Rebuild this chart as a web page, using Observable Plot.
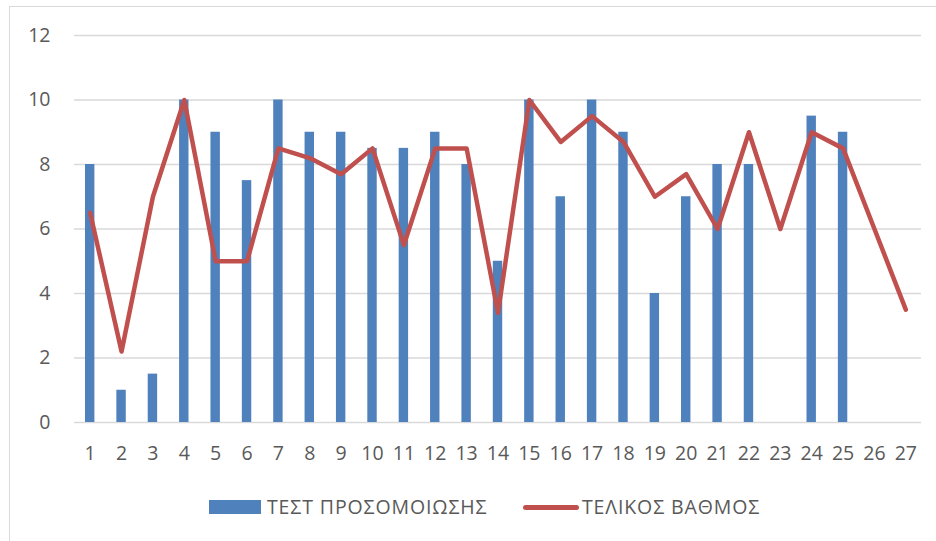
<!DOCTYPE html>
<html><head><meta charset="utf-8">
<script src="https://cdn.jsdelivr.net/npm/d3@7"></script>
<script src="https://cdn.jsdelivr.net/npm/@observablehq/plot@0.6"></script>
<style>
body{margin:0;background:#fff;}
#wrap{position:relative;width:936px;height:541px;overflow:hidden;font-family:"Open Sans",sans-serif;color:#595959;}
#frame{position:absolute;left:9px;top:6px;width:1000px;height:1000px;border:1px solid #d9d9d9;box-sizing:border-box;}
#chart{position:absolute;left:0;top:0;}
.sw{position:absolute;}
.lt{position:absolute;font-size:19.5px;line-height:20px;white-space:nowrap;letter-spacing:0.88px;}
</style>
</head><body>
<div id="wrap"><div id="frame"></div><div id="chart"></div>
<div class="sw" style="left:209px;top:500px;width:52px;height:14px;background:#4F81BD"></div>
<div class="lt" id="l1" style="left:267px;top:497px">ΤΕΣΤ ΠΡΟΣΟΜΟΙΩΣΗΣ</div>
<div class="sw" style="left:523px;top:505px;width:56px;height:5px;border-radius:3px;background:#C0504D"></div>
<div class="lt" id="l2" style="left:582px;top:497px">ΤΕΛΙΚΟΣ ΒΑΘΜΟΣ</div>
</div>
<script>
const categories = [1,2,3,4,5,6,7,8,9,10,11,12,13,14,15,16,17,18,19,20,21,22,23,24,25,26,27];
const testScores = [8,1,1.5,10,9,7.5,10,9,9,8.5,8.5,9,8,5,10,7,10,9,4,7,8,8,null,9.5,9,null,null];
const finalScores = [6.5,2.2,7,10,5,5,8.5,8.2,7.7,8.5,5.5,8.5,8.5,3.4,10,8.7,9.5,8.7,7,7.7,6,9,6,9,8.5,6,3.5];
const yTicks = [0,2,4,6,8,10,12];
const seriesNames = ["ΤΕΣΤ ΠΡΟΣΟΜΟΙΩΣΗΣ","ΤΕΛΙΚΟΣ ΒΑΘΜΟΣ"];

const rows = categories.map((c,i)=>({c, test: testScores[i], fin: finalScores[i]}));
const plot = Plot.plot({
  width: 936, height: 480,
  marginTop: 35, marginBottom: 58, marginLeft: 74, marginRight: 15,
  style: {fontFamily: "Open Sans, sans-serif", fontSize: "19.5px", color: "#595959", background: "transparent"},
  x: {type: "band", domain: categories, paddingInner: 0.7, paddingOuter: 0.35, round: false, label: null},
  y: {domain: [0, 12], label: null},
  marks: [
    Plot.ruleY(yTicks, {stroke: "#d9d9d9", strokeWidth: 1.3}),
    Plot.barY(rows.filter(d => d.test != null), {x: "c", y: "test", fill: "#4F81BD"}),
    Plot.lineY(rows, {x: "c", y: "fin", stroke: "#C0504D", strokeWidth: 4.5, strokeLinecap: "round", strokeLinejoin: "round"}),
    Plot.axisX({tickSize: 0, tickPadding: 24, label: null}),
    Plot.axisY(yTicks, {tickSize: 0, tickPadding: 24, label: null})
  ]
});
document.getElementById("chart").appendChild(plot);
document.getElementById("l1").textContent = seriesNames[0];
document.getElementById("l2").textContent = seriesNames[1];
</script>
</body></html>
